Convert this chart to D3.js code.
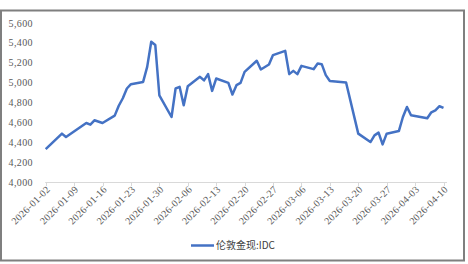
<!DOCTYPE html>
<html>
<head>
<meta charset="utf-8">
<script src="https://cdn.jsdelivr.net/npm/d3@7"></script>
<style>
  body { margin: 0; background: #fff; }
  svg { display: block; }
</style>
</head>
<body>
<div id="chart"></div>
<script>
// London gold spot (IDC)
const dates = ["2026-01-02","2026-01-06","2026-01-07","2026-01-12","2026-01-13","2026-01-14",
  "2026-01-16","2026-01-19","2026-01-20","2026-01-21","2026-01-22","2026-01-23","2026-01-26",
  "2026-01-27","2026-01-28","2026-01-29","2026-01-30","2026-02-02","2026-02-03","2026-02-04",
  "2026-02-05","2026-02-06","2026-02-09","2026-02-10","2026-02-11","2026-02-12","2026-02-13",
  "2026-02-16","2026-02-17","2026-02-18","2026-02-19","2026-02-20","2026-02-23","2026-02-24",
  "2026-02-26","2026-02-27","2026-03-02","2026-03-03","2026-03-04","2026-03-05","2026-03-06",
  "2026-03-09","2026-03-10","2026-03-11","2026-03-12","2026-03-13","2026-03-17","2026-03-20",
  "2026-03-23","2026-03-24","2026-03-25","2026-03-26","2026-03-27","2026-03-30","2026-03-31",
  "2026-04-01","2026-04-02","2026-04-06","2026-04-07","2026-04-08","2026-04-09","2026-04-10"];
const values = [4335,4490,4456,4597,4580,4624,
  4597,4671,4770,4845,4943,4986,5009,
  5160,5412,5379,4875,4657,4943,4959,
  4775,4966,5060,5025,5087,4919,5043,
  4999,4883,4976,4999,5110,5221,5134,
  5184,5278,5321,5087,5120,5087,5170,
  5137,5194,5187,5077,5019,5003,4490,
  4406,4473,4500,4382,4490,4516,4657,
  4758,4674,4644,4704,4724,4765,4748];
const yTicks = [4000,4200,4400,4600,4800,5000,5200,5400,5600];
const xTickDates = ["2026-01-02","2026-01-09","2026-01-16","2026-01-23","2026-01-30","2026-02-06",
  "2026-02-13","2026-02-20","2026-02-27","2026-03-06","2026-03-13","2026-03-20","2026-03-27",
  "2026-04-03","2026-04-10"];
const seriesName = "伦敦金现:IDC";

const width = 468, height = 264;
const parse = d3.utcParse("%Y-%m-%d");
const data = dates.map((d, i) => ({date: parse(d), value: values[i]}));

const svg = d3.select("#chart").append("svg")
    .attr("width", width)
    .attr("height", height);

// frame
svg.append("rect")
    .attr("x", 1).attr("y", 10.5)
    .attr("width", 463).attr("height", 250)
    .attr("fill", "none")
    .attr("stroke", "#7f7f7f")
    .attr("stroke-width", 2);

const x = d3.scaleUtc()
    .domain([parse("2026-01-02"), parse("2026-04-10")])
    .range([45.7, 443.5]);
const y = d3.scaleLinear()
    .domain([4000, 5600])
    .range([182.5, 23]);

const labelFont = "'Liberation Serif', serif";

// y labels
svg.append("g").selectAll("text")
    .data(yTicks)
    .join("text")
    .attr("x", 33)
    .attr("y", d => y(d))
    .attr("dy", "0.35em")
    .attr("text-anchor", "end")
    .attr("font-family", labelFont)
    .attr("font-size", 10)
    .attr("letter-spacing", 0.4)
    .attr("fill", "#595959")
    .text(d => d3.format(",")(d));

// x axis
const xAxis = svg.append("g");
xAxis.append("line")
    .attr("x1", 45.2).attr("x2", 447)
    .attr("y1", 182.5).attr("y2", 182.5)
    .attr("stroke", "#d9d9d9");
xAxis.selectAll("line.tick")
    .data(xTickDates)
    .join("line")
    .attr("class", "tick")
    .attr("x1", d => Math.round(x(parse(d))) + 0.5)
    .attr("x2", d => Math.round(x(parse(d))) + 0.5)
    .attr("y1", 182.5).attr("y2", 186)
    .attr("stroke", "#d9d9d9");
xAxis.selectAll("text")
    .data(xTickDates)
    .join("text")
    .attr("transform", d => `translate(${x(parse(d)) + 5},${190}) rotate(-45)`)
    .attr("text-anchor", "end")
    .attr("font-family", labelFont)
    .attr("font-size", 10)
    .attr("letter-spacing", 0.3)
    .attr("fill", "#595959")
    .text(d => d);

// series line
const line = d3.line()
    .x(d => x(d.date))
    .y(d => y(d.value));
svg.append("path")
    .datum(data)
    .attr("d", line)
    .attr("fill", "none")
    .attr("stroke", "#4472c4")
    .attr("stroke-width", 2.5)
    .attr("stroke-linejoin", "round");

// legend
const legend = svg.append("g");
legend.append("line")
    .attr("x1", 191).attr("x2", 214)
    .attr("y1", 245.5).attr("y2", 245.5)
    .attr("stroke", "#4472c4")
    .attr("stroke-width", 2.5);
legend.append("text")
    .attr("x", 216)
    .attr("y", 245.5)
    .attr("dy", "0.35em")
    .attr("font-family", "'Noto Sans CJK SC', sans-serif")
    .attr("font-size", 10)
    .attr("fill", "#404040")
    .text(seriesName);
</script>
</body>
</html>
